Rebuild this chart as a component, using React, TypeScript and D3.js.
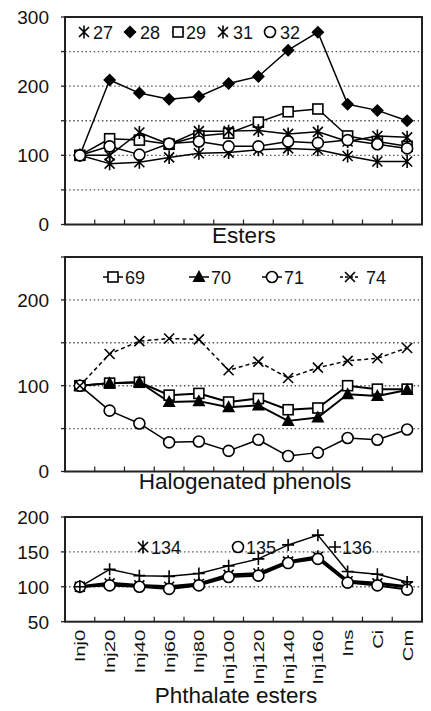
import React from 'react';
import * as d3 from 'd3';

// ---------- data ----------
const categories = ['Inj0', 'Inj20', 'Inj40', 'Inj60', 'Inj80', 'Inj100', 'Inj120', 'Inj140', 'Inj160', 'Ins', 'Ci', 'Cm'];

// Esters
const s27 = [100, 88, 90, 97, 103, 104, 108, 110, 108, 99, 91, 91];
const s28 = [100, 209, 190, 181, 185, 204, 214, 252, 278, 174, 165, 150];
const s29 = [100, 124, 122, 116, 128, 132, 148, 163, 167, 128, 120, 113];
const s31 = [100, 100, 133, 116, 135, 135, 136, 131, 134, 120, 128, 126];
const s32 = [100, 113, 101, 117, 120, 113, 113, 120, 118, 122, 116, 110];

// Halogenated phenols
const s69 = [100, 103, 104, 89, 91, 81, 85, 72, 74, 100, 96, 96];
const s70 = [100, 103, 104, 81, 82, 75, 77, 59, 63, 90, 88, 95];
const s71 = [100, 71, 56, 34, 35, 24, 37, 18, 22, 39, 37, 49];
const s74 = [100, 137, 152, 155, 154, 118, 128, 109, 121, 129, 132, 144];

// Phthalate esters
const s134 = [100, 105, 102, 100, 104, 117, 119, 136, 143, 108, 105, 100];
const s135 = [100, 102, 100, 97, 102, 114, 116, 134, 140, 106, 102, 96];
const s136 = [100, 125, 116, 115, 119, 130, 140, 160, 174, 122, 118, 107];

// axis ticks
const estersLabels = [0, 100, 200, 300];
const estersGrid = [50, 100, 150, 200, 250];
const estersTicks = [0, 50, 100, 150, 200, 250, 300];
const phenolsLabels = [0, 100, 200];
const phenolsGrid = [50, 100, 150, 200];
const phenolsTicks = [0, 50, 100, 150, 200, 250];
const phthLabels = [50, 100, 150, 200];
const phthGrid = [100, 150];
const phthTicks = [50, 100, 150, 200];

// ---------- layout ----------
const FONT = '"Liberation Sans", Arial, sans-serif';
const L = 65;
const R = 422;

const x = d3.scaleBand<string>().domain(categories).range([L, R]).padding(0);
const cx = (c: string) => (x(c) as number) + x.bandwidth() / 2;

type Kind = 'star' | 'diamond' | 'square' | 'circle' | 'triangle' | 'x' | 'plus';

function Marker({ kind, px, py }: { kind: Kind; px: number; py: number }) {
  const sw = 1.6;
  switch (kind) {
    case 'star':
      return (
        <path
          d={`M${px - 5},${py - 5}L${px + 5},${py + 5}M${px + 5},${py - 5}L${px - 5},${py + 5}M${px},${py - 6.5}L${px},${py + 6.5}`}
          stroke="#000"
          strokeWidth={sw}
          fill="none"
        />
      );
    case 'diamond':
      return <path d={`M${px},${py - 6.5}L${px + 6.5},${py}L${px},${py + 6.5}L${px - 6.5},${py}Z`} fill="#000" />;
    case 'square':
      return <rect x={px - 5} y={py - 5} width={10} height={10} fill="#fff" stroke="#000" strokeWidth={sw} />;
    case 'circle':
      return <circle cx={px} cy={py} r={5.5} fill="#fff" stroke="#000" strokeWidth={sw} />;
    case 'triangle':
      return <path d={`M${px},${py - 7}L${px + 6.5},${py + 5}L${px - 6.5},${py + 5}Z`} fill="#000" />;
    case 'x':
      return (
        <path
          d={`M${px - 5},${py - 5}L${px + 5},${py + 5}M${px + 5},${py - 5}L${px - 5},${py + 5}`}
          stroke="#000"
          strokeWidth={sw}
          fill="none"
        />
      );
    case 'plus':
      return (
        <path d={`M${px - 6},${py}L${px + 6},${py}M${px},${py - 6}L${px},${py + 6}`} stroke="#000" strokeWidth={sw} fill="none" />
      );
  }
  return null;
}

interface SeriesDef {
  name: string;
  values: number[];
  kind: Kind;
  width: number;
  dash?: string;
}
interface LegendDef {
  name: string;
  kind: Kind;
  mx: number;
  tx: number;
  stub: number;
  dash?: string;
}

interface PanelProps {
  top: number;
  bottom: number;
  domain: [number, number];
  labels: number[];
  grid: number[];
  ticks: number[];
  series: SeriesDef[];
  legend: LegendDef[];
  legendY: number;
  title: string;
  titleX: number;
  titleY: number;
  xLabels?: boolean;
}

function Panel(p: PanelProps) {
  const y = d3.scaleLinear().domain(p.domain).range([p.bottom, p.top]);
  const line = d3
    .line<number>()
    .x((_, i) => cx(categories[i]))
    .y((v) => y(v));
  const boundaries = categories.slice(1).map((c) => x(c) as number);
  return (
    <g>
      {p.grid.map((g) => (
        <line key={'g' + g} x1={L} x2={R} y1={y(g)} y2={y(g)} stroke="#555" strokeWidth={1.4} strokeDasharray="1.5,2.6" />
      ))}
      {p.ticks.map((t) => (
        <line key={'t' + t} x1={L - 4} x2={L} y1={y(t)} y2={y(t)} stroke="#222" strokeWidth={1.3} />
      ))}
      {p.labels.map((t) => (
        <text key={'l' + t} x={49} y={y(t) + 6.8} textAnchor="end" fontSize={19} fontFamily={FONT} fill="#111">
          {t}
        </text>
      ))}
      {boundaries.map((b, i) => (
        <line key={'xb' + i} x1={b} x2={b} y1={p.bottom} y2={p.bottom - 5} stroke="#222" strokeWidth={1.2} />
      ))}
      <rect x={L} y={p.top} width={R - L} height={p.bottom - p.top} fill="none" stroke="#222" strokeWidth={2} />
      {p.series.map((s) => (
        <path
          key={'ln' + s.name}
          d={line(s.values) as string}
          fill="none"
          stroke="#000"
          strokeWidth={s.width}
          strokeDasharray={s.dash}
          strokeLinejoin="round"
        />
      ))}
      {p.series.map((s) => (
        <g key={'mk' + s.name}>
          {s.values.map((v, i) => (
            <Marker key={i} kind={s.kind} px={cx(categories[i])} py={y(v)} />
          ))}
        </g>
      ))}
      {p.legend.map((l) => (
        <g key={'lg' + l.name}>
          {l.stub > 0 && (
            <line
              x1={l.mx - l.stub}
              x2={l.mx + l.stub}
              y1={p.legendY}
              y2={p.legendY}
              stroke="#000"
              strokeWidth={1.5}
              strokeDasharray={l.dash}
            />
          )}
          <Marker kind={l.kind} px={l.mx} py={p.legendY} />
          <text x={l.tx} y={p.legendY + 6.5} fontSize={18} fontFamily={FONT} fill="#111">
            {l.name}
          </text>
        </g>
      ))}
      {p.xLabels &&
        categories.map((c) => (
          <text
            key={'xl' + c}
            transform={`translate(${cx(c) + 5.5},${p.bottom + 8}) rotate(-90) scale(1.35,1)`}
            textAnchor="end"
            fontSize={15}
            fontFamily={FONT}
            fill="#111"
          >
            {c}
          </text>
        ))}
      <text x={p.titleX} y={p.titleY} textAnchor="middle" fontSize={22.5} fontFamily={FONT} fill="#111">
        {p.title}
      </text>
    </g>
  );
}

export default function App() {
  const esters: SeriesDef[] = [
    { name: '27', values: s27, kind: 'star', width: 1.5 },
    { name: '28', values: s28, kind: 'diamond', width: 1.5 },
    { name: '29', values: s29, kind: 'square', width: 1.5 },
    { name: '31', values: s31, kind: 'star', width: 1.5 },
    { name: '32', values: s32, kind: 'circle', width: 1.5 },
  ];
  const phenols: SeriesDef[] = [
    { name: '69', values: s69, kind: 'square', width: 2 },
    { name: '70', values: s70, kind: 'triangle', width: 2 },
    { name: '71', values: s71, kind: 'circle', width: 1.5 },
    { name: '74', values: s74, kind: 'x', width: 1.5, dash: '4,3' },
  ];
  const phth: SeriesDef[] = [
    { name: '134', values: s134, kind: 'star', width: 3 },
    { name: '135', values: s135, kind: 'circle', width: 2 },
    { name: '136', values: s136, kind: 'plus', width: 1.5 },
  ];
  const estersLegend: LegendDef[] = [
    { name: '27', kind: 'star', mx: 84, tx: 93, stub: 0 },
    { name: '28', kind: 'diamond', mx: 130, tx: 140, stub: 6 },
    { name: '29', kind: 'square', mx: 178, tx: 186, stub: 6 },
    { name: '31', kind: 'star', mx: 223, tx: 233, stub: 0 },
    { name: '32', kind: 'circle', mx: 270, tx: 280, stub: 6 },
  ];
  const phenolsLegend: LegendDef[] = [
    { name: '69', kind: 'square', mx: 113, tx: 125, stub: 10 },
    { name: '70', kind: 'triangle', mx: 199, tx: 211, stub: 10 },
    { name: '71', kind: 'circle', mx: 272, tx: 284, stub: 10 },
    { name: '74', kind: 'x', mx: 350, tx: 366, stub: 10, dash: '3,2' },
  ];
  const phthLegend: LegendDef[] = [
    { name: '134', kind: 'star', mx: 143, tx: 151, stub: 0 },
    { name: '135', kind: 'circle', mx: 238, tx: 246, stub: 0 },
    { name: '136', kind: 'plus', mx: 335, tx: 342, stub: 0 },
  ];

  return (
    <svg width={431} height={711} style={{ position: 'absolute', left: 0, top: 0, background: '#fff' }}>
      <rect x={0} y={0} width={431} height={711} fill="#fff" />
      <Panel
        top={17}
        bottom={224.5}
        domain={[0, 300]}
        labels={estersLabels}
        grid={estersGrid}
        ticks={estersTicks}
        series={esters}
        legend={estersLegend}
        legendY={32}
        title="Esters"
        titleX={244}
        titleY={243}
      />
      <Panel
        top={257}
        bottom={471.5}
        domain={[0, 250]}
        labels={phenolsLabels}
        grid={phenolsGrid}
        ticks={phenolsTicks}
        series={phenols}
        legend={phenolsLegend}
        legendY={277}
        title="Halogenated phenols"
        titleX={245}
        titleY={489}
      />
      <Panel
        top={517}
        bottom={621.7}
        domain={[50, 200]}
        labels={phthLabels}
        grid={phthGrid}
        ticks={phthTicks}
        series={phth}
        legend={phthLegend}
        legendY={547}
        title="Phthalate esters"
        titleX={236}
        titleY={703}
        xLabels
      />
    </svg>
  );
}
